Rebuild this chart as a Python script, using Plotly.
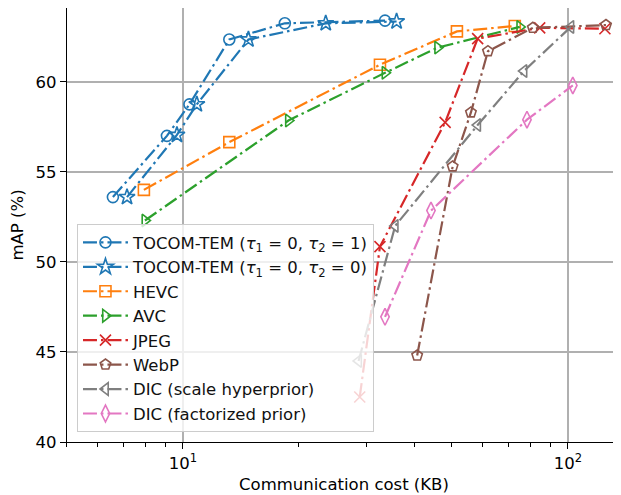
import plotly.graph_objects as go

# ---- data ----
tocom1_x = [6.58, 9.09, 10.4, 13.2, 18.4, 33.5]
tocom1_y = [53.6, 57.0, 58.75, 62.35, 63.25, 63.4]
tocom0_x = [7.16, 9.65, 10.87, 14.8, 23.5, 35.9]
tocom0_y = [53.6, 57.05, 58.75, 62.35, 63.25, 63.35]
hevc_x = [7.92, 13.2, 32.5, 51.5, 72.8]
hevc_y = [54.0, 56.65, 60.95, 62.8, 63.1]
avc_x = [7.97, 18.8, 33.5, 45.9, 75.0]
avc_y = [52.3, 57.85, 60.5, 61.9, 63.05]
jpeg_x = [28.8, 32.5, 48.0, 58.3, 84.5, 124.8]
jpeg_y = [42.5, 50.85, 57.75, 62.4, 63.0, 62.95]
webp_x = [40.6, 50.2, 56.0, 62.0, 81.1, 125.6]
webp_y = [44.8, 55.3, 58.3, 61.7, 63.0, 63.15]
dics_x = [28.6, 35.6, 58.3, 76.9, 101.8]
dics_y = [44.5, 52.0, 57.6, 60.6, 63.05]
dicf_x = [33.5, 44.1, 78.3, 103.0]
dicf_y = [46.95, 52.85, 57.9, 59.8]

names = [
    "TOCOM-TEM (<i>τ</i><sub>1</sub> = 0, <i>τ</i><sub>2</sub> = 1)",
    "TOCOM-TEM (<i>τ</i><sub>1</sub> = 0, <i>τ</i><sub>2</sub> = 0)",
    "HEVC", "AVC", "JPEG", "WebP",
    "DIC (scale hyperprior)", "DIC (factorized prior)",
]
xs = [tocom1_x, tocom0_x, hevc_x, avc_x, jpeg_x, webp_x, dics_x, dicf_x]
ys = [tocom1_y, tocom0_y, hevc_y, avc_y, jpeg_y, webp_y, dics_y, dicf_y]
colors = ["#1f77b4", "#1f77b4", "#ff7f0e", "#2ca02c", "#d62728", "#8c564b", "#7f7f7f", "#e377c2"]
symbols = ["circle-open", "star-open", "square-open", "triangle-right-open",
           "x-thin-open", "pentagon-open", "triangle-left-open", "diamond-tall-open"]
sizes = [11, 12, 11, 11, 11, 11, 11, 12]

x_ticks = [10, 100]
x_ticktext = ["10<sup>1</sup>", "10<sup>2</sup>"]
x_minor = [5, 6, 7, 8, 9, 20, 30, 40, 50, 60, 70, 80, 90]
y_ticks = [40, 45, 50, 55, 60]

FONT = "DejaVu Sans"
FS = 16.5
fig = go.Figure()
for n, x, y, c, s, sz in zip(names, xs, ys, colors, symbols, sizes):
    fig.add_trace(go.Scatter(
        x=x, y=y, name=n, mode="lines+markers",
        line=dict(color=c, width=2.2, dash="14px,4px,2.5px,4px"),
        marker=dict(symbol=s, size=sz, color=c, line=dict(color=c, width=1.6)),
    ))

# the page body has an 8px margin, so the figure is 8px smaller and offset
fig.update_layout(
    width=613, height=487,
    margin=dict(l=59, r=0, t=0, b=53, autoexpand=False),
    paper_bgcolor="white", plot_bgcolor="white",
    font=dict(family=FONT, size=FS, color="black"),
    showlegend=True,
    legend=dict(
        x=0.018, y=0.502, xanchor="left", yanchor="top",
        bgcolor="rgba(255,255,255,0.8)", bordercolor="#cccccc", borderwidth=1,
        font=dict(family=FONT, size=FS, color="#111111"),
        itemwidth=45, tracegroupgap=0,
    ),
    xaxis=dict(
        type="log", range=[0.699, 2.138], automargin=False,
        tickmode="array", tickvals=x_ticks, ticktext=x_ticktext,
        ticks="outside", ticklen=6, tickwidth=1.2, tickcolor="black",
        showgrid=True, gridcolor="#b0b0b0", gridwidth=1.5,
        showline=True, linecolor="black", linewidth=1.3, mirror=True,
        minor=dict(tickmode="array", tickvals=x_minor, ticks="outside",
                   ticklen=3.5, tickwidth=1, tickcolor="black", showgrid=False),
        title=dict(text="Communication cost (KB)", standoff=6, font=dict(size=FS)),
        tickfont=dict(size=FS), zeroline=False,
    ),
    yaxis=dict(
        range=[40, 64.1], automargin=False,
        tickmode="array", tickvals=y_ticks,
        ticks="outside", ticklen=6, tickwidth=1.2, tickcolor="black",
        showgrid=True, gridcolor="#b0b0b0", gridwidth=1.5,
        showline=True, linecolor="black", linewidth=1.3, mirror=True,
        title=dict(text="mAP (%)", standoff=8, font=dict(size=FS)),
        tickfont=dict(size=FS), zeroline=False,
    ),
)

fig.write_html("out.html")
